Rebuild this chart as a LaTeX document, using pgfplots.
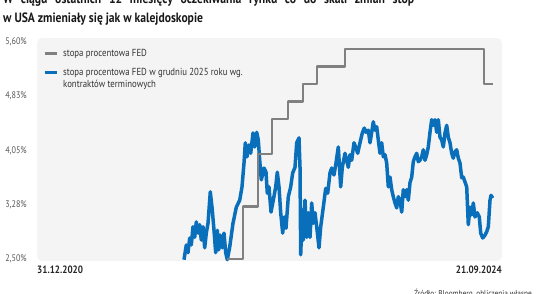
\documentclass[border=0pt]{standalone}
\usepackage{fontspec}
\setmainfont{PT Sans}[FakeStretch=0.86]
\usepackage{pgfplots}
\pgfplotsset{compat=1.18}
\definecolor{fedgray}{HTML}{808080}
\definecolor{fedblue}{HTML}{0A6FBA}
\definecolor{bgc}{HTML}{F4F4F4}
\definecolor{txt}{HTML}{333333}
\definecolor{tickc}{HTML}{555555}
\begin{document}
\begin{tikzpicture}[x=1pt,y=1pt]
\path[use as bounding box] (0,0) rectangle (536,293);
\node[anchor=base west, inner sep=0pt, font=\fontsize{13.6}{16}\bfseries, text=black!90] at (3,289.5) {\makebox[411pt][s]{W ciągu ostatnich 12 miesięcy oczekiwania rynku co do skali zmian stóp}};
\node[anchor=base west, inner sep=0pt, font=\fontsize{13.5}{16}\bfseries, text=black!90] at (3,270.3) {w USA zmieniały się jak w kalejdoskopie};
\node[anchor=base east, inner sep=0pt, font=\fontsize{8.5}{10}\selectfont, text=txt] at (532,-3.5) {Źródło: Bloomberg, obliczenia własne};
\begin{axis}[
  at={(37pt,32pt)}, anchor=south west,
  scale only axis, width=465pt, height=223pt,
  xmin=37, xmax=502, ymin=2.4714, ymax=5.657,
  clip mode=individual,
  axis line style={draw=none},
  axis background/.style={fill=bgc, rounded corners=5pt},
  major tick length=0pt,
  xtick=\empty,
  ytick={2.5,3.275,4.05,4.825,5.6},
  yticklabels={{2,50\%},{3,28\%},{4,05\%},{4,83\%},{5,60\%}},
  yticklabel style={font=\fontsize{9.5}{11}\selectfont, text=tickc, anchor=east, inner sep=0pt, xshift=-10pt},
  legend style={draw=none, fill=none, at={(rel axis cs:0,1)}, anchor=north west,
    xshift=6pt, yshift=-10pt, inner sep=0pt,
    font=\fontsize{10.2}{12.5}\selectfont, text=txt,
    nodes={inner sep=1pt, anchor=base west}, row sep=6.5pt,
    /tikz/every odd column/.append style={column sep=4pt}},
  legend cell align=left,
  legend image code/.code={\draw[#1, line width=3pt] (0pt,3pt) -- (12pt,3pt);},
  line join=round,
]
\addlegendimage{fedgray, line width=2.8pt}
\addlegendentry{stopa procentowa FED}
\addplot[fedblue, line width=3.5pt] coordinates {
(184,2.49)(186.3,2.70)(188,2.59)(189.7,2.80)(191.3,2.70)(193,2.96)(194.7,2.81)(196.3,3.03)(198,2.87)(199.7,2.99)
(201.3,2.77)(203,2.96)(204.7,2.66)(206.3,2.87)(208,3.01)(210.3,3.46)(212.3,3.20)(214,2.91)(215.7,2.59)(217.3,2.91)
(218.7,2.63)(220.3,2.84)(222.3,2.66)(224,2.87)(225.7,2.59)(227.3,2.49)(229.7,2.67)(233,3.01)(236.3,3.24)(239.7,3.34)
(242,3.53)(244,3.87)(245.3,4.16)(247,3.96)(249,4.13)(250.7,4.01)(253,4.30)(254.7,4.10)(256.7,4.31)(258.3,4.20)
(259.7,3.91)(261.3,3.63)(264,3.80)(266,3.74)(267.3,3.44)(269,3.53)(271,3.17)(273.3,3.34)(275.7,3.53)(277.3,3.74)
(279,3.53)(280.7,3.16)(282.7,2.87)(284.3,3.10)(286,2.94)(288.3,3.39)(290.7,3.53)(292.7,3.73)(295,3.81)(296.7,4.16)
(299,4.23)(300,3.81)(300.7,2.56)(302.3,3.20)(303.3,2.77)(305,3.34)(306.7,2.81)(308.3,3.16)(310,2.81)(311.7,3.30)
(313.3,3.01)(315,3.16)(316.7,2.96)(319,2.66)(320.7,2.96)(323.3,3.24)(325.7,3.51)(327.7,3.44)(330,3.73)(331.7,3.80)
(334,3.70)(336,3.87)(338.3,4.10)(340.7,3.53)(342.3,3.81)(345,4.01)(348.3,3.81)(350,3.99)(351.7,3.91)(354,4.16)
(356,4.09)(357.7,4.01)(360,4.16)(362.3,4.30)(364.3,4.37)(366,4.31)(368.3,4.34)(370,4.16)(371.7,4.31)(373.3,4.46)
(375,4.34)(376.7,4.39)(378.3,4.20)(380,4.01)(381.7,4.16)(383.3,3.96)(385,3.99)(386.7,3.87)(388.3,3.53)(390,3.67)
(391.7,3.49)(393.3,3.39)(395,3.30)(396.7,3.23)(398.3,3.39)(400,3.34)(401.7,3.17)(403.3,3.49)(405,3.39)(406.7,3.49)
(408.3,3.34)(410,3.59)(411.7,3.67)(413.3,3.89)(415,3.96)(416.7,4.01)(418.3,3.89)(420,3.91)(421.7,3.96)(423.3,4.06)
(425,3.91)(426.7,3.99)(428.3,4.10)(430,4.31)(431.7,4.49)(433.3,4.41)(435,4.49)(436.7,4.31)(438.3,4.49)(440,4.24)
(441.7,4.20)(443.3,4.10)(445,4.30)(446.7,4.41)(448.3,4.24)(450,4.16)(451.7,4.01)(453.3,3.94)(455,4.03)(456.7,4.06)
(458.3,3.94)(460,3.87)(461.7,3.66)(463.3,3.67)(465,3.60)(466.7,3.53)(468.3,2.99)(470,3.24)(471.7,3.13)(473.3,3.30)
(475,3.10)(477.3,3.16)(479.3,3.10)(480.7,2.87)(482.7,2.80)(485,2.84)(486.7,2.89)(488.3,2.96)(490,3.34)(491,3.41)
(492.7,3.37)
};
\addlegendentry{\begin{tabular}[t]{@{}l@{}}stopa procentowa FED w grudniu 2025 roku wg.\\kontraktów terminowych\end{tabular}}
\addplot[fedgray, line width=2.8pt, forget plot] coordinates {
(227,2.5)(243,2.5)(243,3.25)(258,3.25)(258,4.0)(272,4.0)(272,4.5)(288,4.5)(288,4.75)
(303,4.75)(303,5.0)(317,5.0)(317,5.25)(345,5.25)(345,5.5)(484,5.5)(484,5.0)(493,5.0)
};
\node[anchor=north west, inner sep=0pt, font=\fontsize{10.6}{12}\bfseries, text=black!85] at (rel axis cs:0,0) [yshift=-5pt] {31.12.2020};
\node[anchor=north east, inner sep=0pt, font=\fontsize{10.6}{12}\bfseries, text=black!85] at (rel axis cs:1,0) [yshift=-5pt] {21.09.2024};
\end{axis}
\end{tikzpicture}
\end{document}
